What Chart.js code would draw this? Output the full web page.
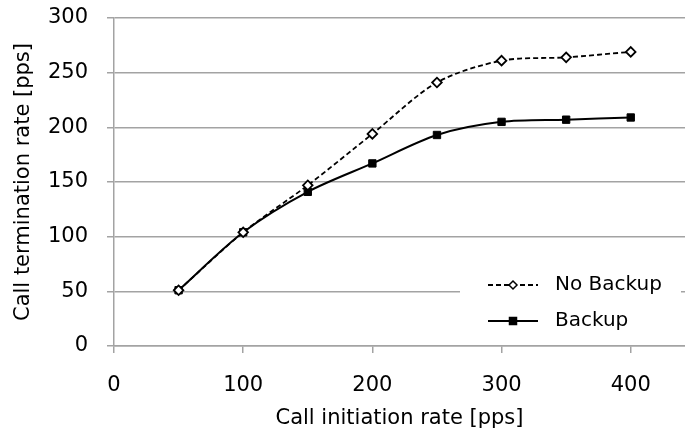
<!DOCTYPE html>
<html>
<head>
<meta charset="utf-8">
<script src="https://cdn.jsdelivr.net/npm/chart.js@4/dist/chart.umd.min.js"></script>
<style>
  html, body { margin: 0; padding: 0; background: #fff; }
  canvas { display: block; }
</style>
</head>
<body>
<canvas id="rateChart" width="685" height="431"></canvas>
<script>
// x: Anrufinitiierungsrate, y: Terminierungsrate
const initRates = [50, 100, 150, 200, 250, 300, 350, 400];
const noBackupRates = [51, 104, 147, 194, 241, 261, 264, 269];
const backupRates = [51, 104, 141, 167, 193, 205, 207, 209];
const xTickValues = [0, 100, 200, 300, 400];
const yTickValues = [0, 50, 100, 150, 200, 250, 300];

const FONT = 'DejaVu Sans';
const GRID = '#a3a3a3';

// Legende innerhalb des Plotbereichs (unten rechts, weißer Hintergrund)
const insideLegend = {
    id: 'insideLegend',
    afterDatasetsDraw(chart) {
        const ctx = chart.ctx;
        const area = chart.chartArea;
        const boxLeft = area.right - 225;
        const boxTop = area.bottom - 84;
        ctx.save();
        ctx.fillStyle = '#fff';
        ctx.fillRect(boxLeft, boxTop, 221, 78);

        chart.data.datasets.forEach((ds, i) => {
            const y = boxTop + 23 + i * 36;
            const x0 = boxLeft + 28;
            const x1 = boxLeft + 78;
            const cx = (x0 + x1) / 2;
            ctx.strokeStyle = ds.borderColor;
            ctx.lineWidth = ds.borderWidth;
            ctx.setLineDash(ds.borderDash || []);
            ctx.beginPath();
            ctx.moveTo(x0, y);
            ctx.lineTo(x1, y);
            ctx.stroke();
            ctx.setLineDash([]);

            // kleinere Marker in der Legende
            ctx.fillStyle = ds.pointBackgroundColor;
            ctx.strokeStyle = ds.pointBorderColor;
            ctx.lineWidth = 1.5;
            ctx.beginPath();
            if (ds.pointStyle === 'rect') {
                ctx.rect(cx - 3.5, y - 3.5, 7, 7);
            } else {
                ctx.moveTo(cx, y - 4);
                ctx.lineTo(cx + 4, y);
                ctx.lineTo(cx, y + 4);
                ctx.lineTo(cx - 4, y);
                ctx.closePath();
            }
            ctx.fill();
            ctx.stroke();

            ctx.fillStyle = '#000';
            ctx.font = '20px "' + FONT + '"';
            ctx.textAlign = 'left';
            ctx.textBaseline = 'middle';
            ctx.fillText(ds.label, boxLeft + 95, y);
        });
        ctx.restore();
    }
};

const ctx = document.getElementById('rateChart').getContext('2d');
new Chart(ctx, {
    type: 'line',
    data: {
        datasets: [
            {
                label: 'No Backup',
                data: initRates.map((x, i) => ({ x: x, y: noBackupRates[i] })),
                borderColor: '#000',
                borderWidth: 1.8,
                borderDash: [5, 3],
                pointStyle: 'rectRot',
                pointRadius: 4.8,
                pointBorderWidth: 1.8,
                pointBackgroundColor: '#fff',
                pointBorderColor: '#000',
                tension: 0.3,
                fill: false
            },
            {
                label: 'Backup',
                data: initRates.map((x, i) => ({ x: x, y: backupRates[i] })),
                borderColor: '#000',
                borderWidth: 2,
                pointStyle: 'rect',
                pointRadius: 5.2,
                pointBorderWidth: 1,
                pointBackgroundColor: '#000',
                pointBorderColor: '#000',
                tension: 0.3,
                fill: false
            }
        ]
    },
    options: {
        responsive: false,
        animation: false,
        layout: { autoPadding: false, padding: { top: 18, right: 0, left: 0, bottom: 0 } },
        plugins: {
            legend: { display: false },
            tooltip: { enabled: false }
        },
        scales: {
            x: {
                type: 'linear',
                min: 0,
                max: 442,
                afterBuildTicks: (scale) => {
                    scale.ticks = xTickValues.map(v => ({ value: v }));
                },
                afterFit: (scale) => {
                    scale.height = 85;
                    scale.paddingLeft = 0;
                    scale.paddingRight = 0;
                },
                grid: {
                    drawOnChartArea: false,
                    drawTicks: true,
                    tickLength: 7,
                    color: GRID,
                    lineWidth: 1.5
                },
                border: { display: true, color: GRID, width: 1.5 },
                ticks: {
                    color: '#000',
                    padding: 20,
                    maxRotation: 0,
                    font: { family: FONT, size: 21 }
                },
                title: {
                    display: true,
                    text: 'Call initiation rate [pps]',
                    color: '#000',
                    font: { family: FONT, size: 21 },
                    padding: { top: 0, bottom: 0 }
                }
            },
            y: {
                type: 'linear',
                min: 0,
                max: 300,
                afterBuildTicks: (scale) => {
                    scale.ticks = yTickValues.map(v => ({ value: v }));
                },
                afterFit: (scale) => {
                    scale.width = 114;
                    scale.paddingTop = 0;
                    scale.paddingBottom = 0;
                },
                grid: {
                    drawTicks: true,
                    tickLength: 7,
                    color: GRID,
                    lineWidth: 1.5
                },
                border: { display: true, color: GRID, width: 1.5 },
                ticks: {
                    color: '#000',
                    padding: 19,
                    font: { family: FONT, size: 21 }
                },
                title: {
                    display: true,
                    text: 'Call termination rate [pps]',
                    color: '#000',
                    font: { family: FONT, size: 21 },
                    padding: { top: 11, bottom: 0 }
                }
            }
        }
    },
    plugins: [insideLegend]
});
</script>
</body>
</html>
